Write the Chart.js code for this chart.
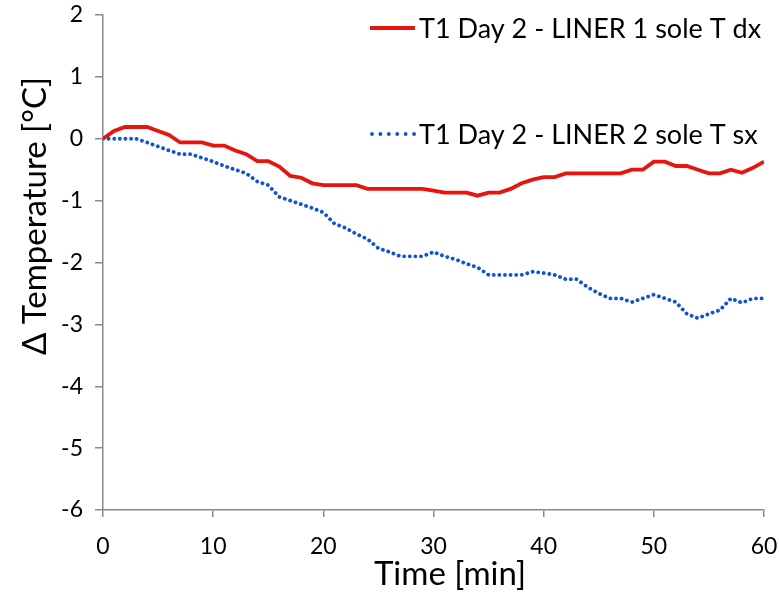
<!DOCTYPE html>
<html lang="en">
<head>
  <meta charset="UTF-8">
  <title>Delta Temperature</title>
  <script src="https://cdn.jsdelivr.net/npm/chart.js"></script>
  <style>
    html, body { margin: 0; padding: 0; background: #fff; }
  </style>
</head>
<body>
  <canvas id="tempChart" width="779" height="594"></canvas>

  <script>
    // time in minutes
    const minutes = [];
    for (let m = 0; m <= 60; m++) minutes.push(m);

    const liner1Dx = [
      0, 0.125, 0.19, 0.19, 0.19, 0.125, 0.06, -0.06, -0.06, -0.06,
      -0.11, -0.11, -0.19, -0.25, -0.36, -0.36, -0.45, -0.6, -0.63, -0.72,
      -0.75, -0.75, -0.75, -0.75, -0.81, -0.81, -0.81, -0.81, -0.81, -0.81,
      -0.84, -0.87, -0.87, -0.87, -0.92, -0.87, -0.87, -0.81, -0.72, -0.66,
      -0.62, -0.62, -0.56, -0.56, -0.56, -0.56, -0.56, -0.56, -0.5, -0.5,
      -0.37, -0.37, -0.44, -0.44, -0.5, -0.56, -0.56, -0.5, -0.55, -0.47,
      -0.37
    ];

    const liner2Sx = [
      0, 0, 0, 0, -0.06, -0.125, -0.19, -0.25, -0.25, -0.31,
      -0.37, -0.44, -0.5, -0.56, -0.69, -0.75, -0.94, -1.0, -1.06, -1.12,
      -1.19, -1.37, -1.44, -1.54, -1.62, -1.77, -1.83, -1.9, -1.9, -1.9,
      -1.83, -1.9, -1.95, -2.02, -2.08, -2.2, -2.2, -2.2, -2.2, -2.15,
      -2.17, -2.2, -2.27, -2.27, -2.4, -2.5, -2.58, -2.58, -2.64, -2.58,
      -2.52, -2.58, -2.64, -2.83, -2.9, -2.83, -2.77, -2.58, -2.65, -2.58,
      -2.58
    ];

    const seriesLabels = ['T1 Day 2 - LINER 1 sole T dx', 'T1 Day 2 - LINER 2 sole T sx'];
    const seriesColors = ['#e8140e', '#0a50ea'];
    const xTitle = 'Time [min]';
    const yTitle = 'Δ Temperature [°C]';

    const FONT = 'Lato, "Open Sans", sans-serif';
    const axisGray = '#8a8a8a';

    const toPoints = (vals) => vals.map((v, i) => ({ x: minutes[i], y: v }));

    // legend + axis titles drawn by hand, Excel placed them off-centre
    const excelBits = {
      id: 'excelBits',
      afterDraw(chart) {
        const ctx = chart.ctx;
        const area = chart.chartArea;
        ctx.save();
        ctx.fillStyle = '#000';
        ctx.textBaseline = 'middle';

        // legend, two rows far apart
        const rows = [area.top + 13, area.top + 119];
        ctx.font = '27px ' + FONT;
        chart.data.datasets.forEach((ds, i) => {
          const y = rows[i];
          const x0 = area.left + 267;
          ctx.beginPath();
          ctx.strokeStyle = ds.borderColor;
          ctx.lineWidth = ds.borderWidth;
          ctx.lineCap = ds.borderCapStyle || 'butt';
          ctx.setLineDash(ds.borderDash ? [0.01, 8.4] : []);
          ctx.moveTo(x0 + (ds.borderDash ? 2 : 0), y);
          ctx.lineTo(x0 + 45, y);
          ctx.stroke();
          ctx.setLineDash([]);
          ctx.fillText(ds.label, x0 + 49, y + 1);
        });

        // axis titles
        ctx.font = '33px ' + FONT;
        ctx.textAlign = 'center';
        ctx.fillText(xTitle, area.left + 347, 574);
        ctx.translate(35, 216);
        ctx.rotate(-Math.PI / 2);
        ctx.fillText(yTitle, 0, 0);
        ctx.restore();
      }
    };

    const ctx = document.getElementById('tempChart').getContext('2d');
    new Chart(ctx, {
      type: 'line',
      data: {
        datasets: [
          {
            label: seriesLabels[0],
            data: toPoints(liner1Dx),
            borderColor: seriesColors[0],
            borderWidth: 3.8,
            pointRadius: 0,
            tension: 0
          },
          {
            label: seriesLabels[1],
            data: toPoints(liner2Sx),
            borderColor: seriesColors[1],
            borderWidth: 3.8,
            borderDash: [0.01, 5.6],
            borderCapStyle: 'round',
            pointRadius: 0,
            tension: 0
          }
        ]
      },
      options: {
        responsive: false,
        animation: false,
        layout: { padding: { left: 0, top: 15, right: 15, bottom: 0 } },
        plugins: {
          legend: { display: false },
          tooltip: { enabled: false }
        },
        scales: {
          x: {
            type: 'linear',
            min: 0,
            max: 60,
            afterFit: (s) => { s.height = 84; s.paddingLeft = 0; s.paddingRight = 0; },
            border: { display: true, color: axisGray, width: 1.5 },
            grid: { drawOnChartArea: false, drawTicks: true, tickLength: 7, color: axisGray, lineWidth: 1.5 },
            ticks: { stepSize: 10, padding: 16, color: '#000', font: { family: FONT, size: 23 }, maxRotation: 0 }
          },
          y: {
            min: -6,
            max: 2,
            afterFit: (s) => { s.width = 103; s.paddingTop = 0; s.paddingBottom = 0; },
            border: { display: true, color: axisGray, width: 1.5 },
            grid: { drawOnChartArea: false, drawTicks: true, tickLength: 8, color: axisGray, lineWidth: 1.5 },
            ticks: { stepSize: 1, padding: 12, color: '#000', font: { family: FONT, size: 23 } }
          }
        }
      },
      plugins: [excelBits]
    });
  </script>
</body>
</html>
